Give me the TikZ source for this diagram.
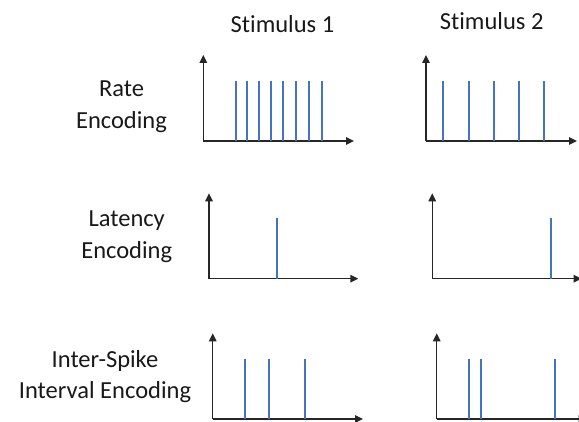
\documentclass[tikz,border=0pt]{standalone}
\usepackage{fontspec}
\setmainfont{Carlito}[Ligatures=NoCommon]
\usetikzlibrary{arrows.meta}
\definecolor{spikeblue}{HTML}{4472C4}
\definecolor{axisgray}{HTML}{262626}
\begin{document}
\begin{tikzpicture}[x=1pt,y=-1pt,
  axis/.style={draw=axisgray, line width=1.4pt, -{Triangle[length=8pt,width=7.5pt]}},
  spike/.style={draw=spikeblue, line width=2pt},
  lbl/.style={font=\fontsize{24.5}{31.3}\selectfont, align=center, inner sep=0pt, anchor=base, text=black!90}]
\useasboundingbox (0,0) rectangle (579,422);
\clip (0,0) rectangle (579,422);

% column titles
\node[lbl] (s1) at (282.5,32.3) {Stimulus 1};
\node[lbl] (s2) at (491.7,30) {Stimulus 2};

% row labels (anchor = baseline of last line)
\node[lbl] (rate) at (121.5,128.3) {Rate\\Encoding};
\node[lbl] (lat) at (126.7,258.3) {Latency\\Encoding};
\node[lbl] (isi) at (105,398.3) {Inter-Spike\\Interval Encoding};

% axes coordinates
\coordinate (o11) at (203.3,141);   \coordinate (y11) at (203.3,55);  \coordinate (x11) at (354,141);
\coordinate (o12) at (426,141);     \coordinate (y12) at (426,55);    \coordinate (x12) at (577,141);
\coordinate (o21) at (209,278.7);   \coordinate (y21) at (209,193.3); \coordinate (x21) at (358.3,278.7);
\coordinate (o22) at (432.3,278.7); \coordinate (y22) at (432.3,193.3); \coordinate (x22) at (581.6,278.7);
\coordinate (o31) at (212.7,419);   \coordinate (y31) at (212.7,333.3); \coordinate (x31) at (363,419);
\coordinate (o32) at (436.7,419);   \coordinate (y32) at (436.7,333.3); \coordinate (x32) at (586.7,419);

\foreach \g in {11,12,21,22,31,32}{
  \draw[axis] (o\g) -- (y\g);
  \draw[axis] (o\g) -- (x\g);
}

% spikes
\foreach \x in {235.7,246.7,259.3,271,283,296,308.7,321.7}
  \draw[spike] (\x,141) -- (\x,81);
\foreach \x in {443.3,469.3,494,518.7,544.3}
  \draw[spike] (\x,141) -- (\x,81);
\draw[spike] (276.7,278.7) -- (276.7,218.3);
\draw[spike] (550.7,278.7) -- (550.7,218.3);
\foreach \x in {245.3,269,305.3}
  \draw[spike] (\x,419) -- (\x,359);
\foreach \x in {469.3,481,555}
  \draw[spike] (\x,419) -- (\x,359);
\end{tikzpicture}
\end{document}
